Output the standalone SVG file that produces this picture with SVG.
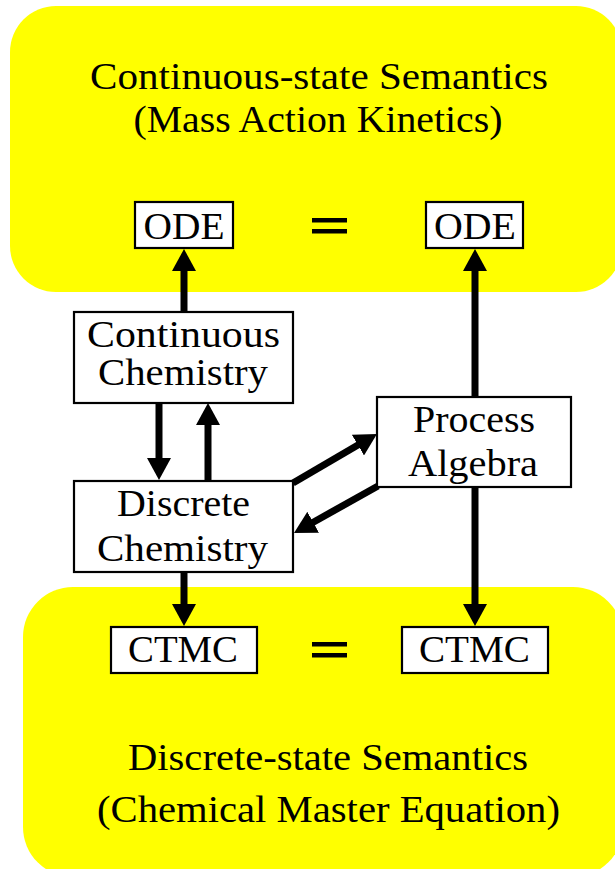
<svg xmlns="http://www.w3.org/2000/svg" width="615" height="869" viewBox="0 0 615 869">
  <style>
    .region { fill: #ffff00; stroke: none; }
    .box { fill: #ffffff; stroke: #000000; stroke-width: 2.2; }
    .lbl { font-family: "Liberation Serif", "Times New Roman", serif; font-size: 38px; fill: #000000; text-anchor: middle; }
    .title { font-family: "Liberation Serif", "Times New Roman", serif; font-size: 38px; fill: #000000; text-anchor: middle; }
    .arrow { stroke: #000000; stroke-width: 7; fill: none; marker-end: url(#head); }
    .eq { fill: #000000; }
  </style>
  <defs>
    <marker id="head" markerUnits="userSpaceOnUse" markerWidth="22" markerHeight="24" viewBox="0 0 22 24" refX="4" refY="12" orient="auto">
      <path d="M0,0 L22,12 L0,24 z" fill="#000000"/>
    </marker>
  </defs>

  <rect width="615" height="869" fill="#ffffff"/>

  <!-- continuous-state semantics region -->
  <g id="continuous-region">
    <rect class="region" x="10" y="6" width="612" height="286" rx="46" ry="46"/>
    <text class="title" x="319" y="89" textLength="458" lengthAdjust="spacingAndGlyphs">Continuous-state Semantics</text>
    <text class="title" x="318" y="132" textLength="369" lengthAdjust="spacingAndGlyphs">(Mass Action Kinetics)</text>
  </g>

  <!-- discrete-state semantics region -->
  <g id="discrete-region">
    <rect class="region" x="23" y="587" width="600" height="290" rx="50" ry="50"/>
    <text class="title" x="328" y="770" textLength="400" lengthAdjust="spacingAndGlyphs">Discrete-state Semantics</text>
    <text class="title" x="328.5" y="822" textLength="463" lengthAdjust="spacingAndGlyphs">(Chemical Master Equation)</text>
  </g>

  <!-- equality signs -->
  <g id="eq-top">
    <rect class="eq" x="312" y="218" width="35" height="4.5"/>
    <rect class="eq" x="312" y="229" width="35" height="4.5"/>
  </g>
  <g id="eq-bottom">
    <rect class="eq" x="312" y="642" width="35" height="4.5"/>
    <rect class="eq" x="312" y="653" width="35" height="4.5"/>
  </g>

  <!-- connectors -->
  <g id="connectors">
    <line class="arrow" x1="184" y1="312" x2="184" y2="267"/>
    <line class="arrow" x1="159" y1="403" x2="159" y2="462"/>
    <line class="arrow" x1="208" y1="481" x2="208" y2="421"/>
    <line class="arrow" x1="184" y1="572" x2="184" y2="608"/>
    <line class="arrow" x1="475" y1="397" x2="475" y2="267"/>
    <line class="arrow" x1="475" y1="487" x2="475" y2="608"/>
    <line class="arrow" x1="293" y1="483" x2="361.4" y2="443.1"/>
    <line class="arrow" x1="378" y1="486" x2="309.7" y2="524.2"/>
  </g>

  <!-- nodes -->
  <g id="ode-left">
    <rect class="box" x="135" y="202" width="98" height="46"/>
    <text class="lbl" x="184" y="239" textLength="81" lengthAdjust="spacingAndGlyphs">ODE</text>
  </g>
  <g id="ode-right">
    <rect class="box" x="426" y="202" width="97" height="46"/>
    <text class="lbl" x="475" y="239" textLength="82" lengthAdjust="spacingAndGlyphs">ODE</text>
  </g>
  <g id="continuous-chemistry">
    <rect class="box" x="74" y="312" width="219" height="91"/>
    <text class="lbl" x="183.5" y="347" textLength="193" lengthAdjust="spacingAndGlyphs">Continuous</text>
    <text class="lbl" x="183" y="385" textLength="170" lengthAdjust="spacingAndGlyphs">Chemistry</text>
  </g>
  <g id="process-algebra">
    <rect class="box" x="377" y="397" width="194" height="90"/>
    <text class="lbl" x="474" y="432" textLength="122" lengthAdjust="spacingAndGlyphs">Process</text>
    <text class="lbl" x="473" y="476" textLength="130" lengthAdjust="spacingAndGlyphs">Algebra</text>
  </g>
  <g id="discrete-chemistry">
    <rect class="box" x="74" y="481" width="219" height="91"/>
    <text class="lbl" x="183.5" y="516" textLength="133" lengthAdjust="spacingAndGlyphs">Discrete</text>
    <text class="lbl" x="182.5" y="561" textLength="171" lengthAdjust="spacingAndGlyphs">Chemistry</text>
  </g>
  <g id="ctmc-left">
    <rect class="box" x="111" y="627" width="146" height="46"/>
    <text class="lbl" x="183" y="662" textLength="110" lengthAdjust="spacingAndGlyphs">CTMC</text>
  </g>
  <g id="ctmc-right">
    <rect class="box" x="402" y="627" width="146" height="46"/>
    <text class="lbl" x="474.5" y="662" textLength="111" lengthAdjust="spacingAndGlyphs">CTMC</text>
  </g>
</svg>
